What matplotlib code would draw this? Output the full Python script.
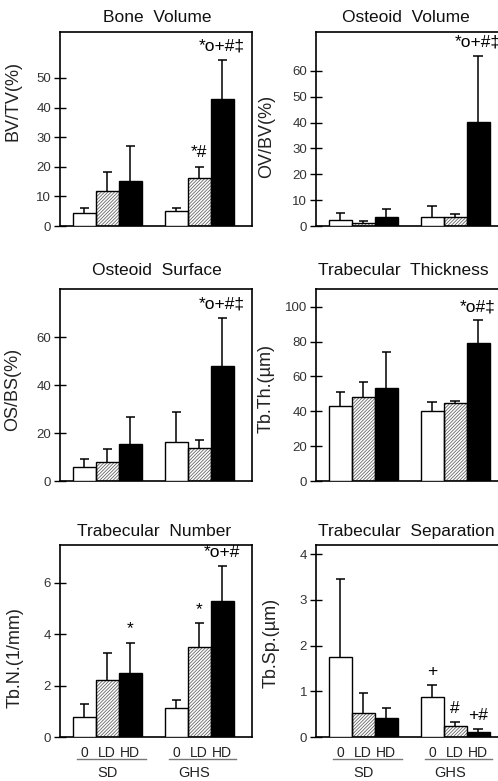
import matplotlib
matplotlib.use("Agg")
import matplotlib.pyplot as plt
from matplotlib.transforms import blended_transform_factory

plt.rcParams['font.family'] = ['Liberation Sans', 'DejaVu Sans']
plt.rcParams['hatch.linewidth'] = 0.6

# groups / doses
doses = ['0', 'LD', 'HD', '0', 'LD', 'HD']
groups = ['SD', 'GHS']
xpos = [0, 1, 2, 4, 5, 6]

# means and SD (upper error only), order: SD 0, SD LD, SD HD, GHS 0, GHS LD, GHS HD
bv_mean = [4.3, 11.8, 15.3, 5.2, 16.1, 42.8]
bv_err = [1.9, 6.5, 11.8, 0.9, 3.9, 13.2]
bv_marks = ['', '', '', '', '*#', '*o+#‡']

ov_mean = [2.2, 1.3, 3.5, 3.6, 3.6, 40.1]
ov_err = [3.0, 0.5, 3.0, 4.0, 1.1, 25.7]
ov_marks = ['', '', '', '', '', '*o+#‡']

os_mean = [6.0, 7.8, 15.3, 16.2, 13.9, 48.0]
os_err = [3.1, 5.4, 11.3, 12.7, 3.2, 20.0]
os_marks = ['', '', '', '', '', '*o+#‡']

th_mean = [43.3, 48.1, 53.3, 40.4, 44.8, 78.9]
th_err = [8.0, 8.9, 20.7, 5.2, 1.2, 13.2]
th_marks = ['', '', '', '', '', '*o#‡']

tn_mean = [0.80, 2.24, 2.48, 1.14, 3.50, 5.28]
tn_err = [0.48, 1.04, 1.18, 0.30, 0.93, 1.36]
tn_marks = ['', '', '*', '', '*', '*o+#']

sp_mean = [1.76, 0.54, 0.41, 0.88, 0.25, 0.11]
sp_err = [1.69, 0.43, 0.24, 0.26, 0.08, 0.06]
sp_marks = ['', '', '', '+', '#', '+#']

panels = [
    # title, ylabel, means, errs, marks, ylim, yticks, pos, label xy, title xy, title ha
    ('Bone  Volume', 'BV/TV(%)', bv_mean, bv_err, bv_marks, 65.5, range(0, 51, 10),
     [0.1205, 0.7106, 0.3855, 0.2484], (-0.198, 0.644), (0.505, 1.077), 'center'),
    ('Osteoid  Volume', 'OV/BV(%)', ov_mean, ov_err, ov_marks, 75, range(0, 61, 10),
     [0.6345, 0.7106, 0.3855, 0.2484], (-0.214, 0.46), (0.47, 1.077), 'center'),
    ('Osteoid  Surface', 'OS/BS(%)', os_mean, os_err, os_marks, 80, range(0, 61, 20),
     [0.1205, 0.3841, 0.3855, 0.2455], (-0.2, 0.48), (0.505, 1.10), 'center'),
    ('Trabecular  Thickness', 'Tb.Th.(µm)', th_mean, th_err, th_marks, 110, range(0, 101, 20),
     [0.6345, 0.3841, 0.3855, 0.2455], (-0.214, 0.48), (0.01, 1.10), 'left'),
    ('Trabecular  Number', 'Tb.N.(1/mm)', tn_mean, tn_err, tn_marks, 7.46, range(0, 7, 2),
     [0.1205, 0.0560, 0.3855, 0.2462], (-0.19, 0.414), (0.49, 1.068), 'center'),
    ('Trabecular  Separation', 'Tb.Sp.(µm)', sp_mean, sp_err, sp_marks, 4.2, range(0, 5, 1),
     [0.6345, 0.0560, 0.3855, 0.2462], (-0.19, 0.488), (0.01, 1.068), 'left'),
]

fig = plt.figure(figsize=(4.98, 7.81), dpi=100)

for i, (title, ylab, mean, err, marks, ytop, yt, pos, lab_xy, t_xy, t_ha) in enumerate(panels):
    ax = fig.add_axes(pos)
    faces = ['white', 'white', 'black', 'white', 'white', 'black']
    tops = [m + e for m, e in zip(mean, err)]
    # upper error bars only
    ax.vlines(xpos, mean, tops, color='black', lw=1.1, zorder=1)
    ax.hlines(tops, [x - 0.2 for x in xpos], [x + 0.2 for x in xpos], color='black', lw=1.1, zorder=1)
    for j in range(6):
        if j in (1, 4):
            ax.bar(xpos[j], mean[j], width=1, color='white', edgecolor='#666666',
                   hatch='//////////', linewidth=0, zorder=2)
            ax.bar(xpos[j], mean[j], width=1, fill=False, edgecolor='black',
                   linewidth=1.0, zorder=3)
        else:
            ax.bar(xpos[j], mean[j], width=1, color=faces[j], edgecolor='black',
                   linewidth=1.0, zorder=3)
    for j in range(6):
        if marks[j]:
            ax.annotate(marks[j], (xpos[j], tops[j]), xytext=(0, 10),
                        textcoords='offset points', ha='center', va='center',
                        fontsize=12.5, color='black', annotation_clip=False)
    ax.set_xlim(-1.05, 7.3)
    ax.set_ylim(0, ytop)
    ax.set_yticks(list(yt))
    ax.tick_params(axis='y', direction='inout', length=9, width=1, labelsize=9.5,
                   labelcolor='#333333', pad=2)
    for s in ax.spines.values():
        s.set_linewidth(1.2)
    ax.set_ylabel(ylab, fontsize=13, color='#222222')
    ax.yaxis.set_label_coords(*lab_xy)
    ax.text(t_xy[0], t_xy[1], title, transform=ax.transAxes, ha=t_ha, va='center',
            fontsize=12.5, color='#111111')
    if i >= 4:
        ax.set_xticks(xpos)
        ax.set_xticklabels(doses, fontsize=10, color='#222222')
        ax.tick_params(axis='x', length=0, pad=6)
        tr = blended_transform_factory(ax.transData, ax.transAxes)
        ax.plot([-0.3, 2.7], [-0.113, -0.113], color='#777777', lw=1, transform=tr, clip_on=False)
        ax.plot([3.7, 6.6], [-0.113, -0.113], color='#777777', lw=1, transform=tr, clip_on=False)
        ax.text(1, -0.184, groups[0], transform=tr, ha='center', va='center',
                fontsize=10.5, color='#222222')
        ax.text(4.8, -0.184, groups[1], transform=tr, ha='center', va='center',
                fontsize=10.5, color='#222222')
    else:
        ax.set_xticks([])

fig.savefig('out.png', dpi=100)
